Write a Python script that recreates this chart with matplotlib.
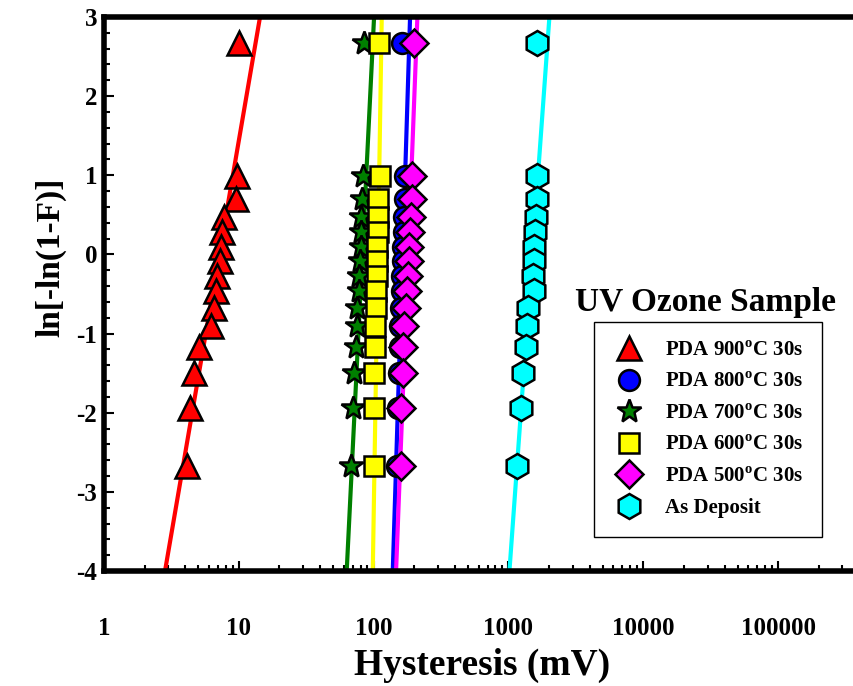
import matplotlib
matplotlib.use("Agg")
from matplotlib import pyplot as plt
from matplotlib.lines import Line2D
from matplotlib.ticker import FixedLocator, LogLocator, MultipleLocator, FuncFormatter

plt.rcParams['font.family'] = ['Liberation Serif', 'DejaVu Serif']
plt.rcParams['font.weight'] = 'bold'
plt.rcParams['mathtext.fontset'] = 'custom'
plt.rcParams['mathtext.rm'] = 'Liberation Serif:bold'
plt.rcParams['axes.unicode_minus'] = False

# Weibull plotting positions, ln[-ln(1-F)]
weibull_y = [2.67, 0.996, 0.701, 0.476, 0.279, 0.094, -0.087, -0.272, -0.464,
             -0.672, -0.903, -1.171, -1.500, -1.944, -2.674]

# hysteresis (mV) for each sample, same order as weibull_y
pda900 = [10.0, 9.70, 9.53, 7.77, 7.50, 7.38, 7.26, 6.89, 6.80, 6.55, 6.22, 5.07, 4.65, 4.35, 4.13]
pda800 = [162.5, 171.0, 169.5, 168.1, 166.7, 165.3, 163.9, 162.5, 161.1, 159.7, 156.9, 155.6, 154.3, 150.3, 149.2]
pda700 = [84.9, 83.0, 81.6, 80.7, 80.2, 80.2, 79.3, 78.3, 77.5, 75.6, 74.6, 74.0, 71.6, 70.7, 67.9]
pda600 = [109.6, 111.5, 108.3, 107.2, 107.2, 106.5, 105.4, 105.4, 104.2, 104.2, 102.4, 102.4, 101.2, 100.7, 100.7]
pda500 = [199.6, 191.7, 191.7, 188.5, 186.3, 184.0, 183.2, 180.9, 177.8, 174.0, 169.0, 166.1, 164.4, 158.8, 158.8]
as_dep = [1622, 1622, 1622, 1595, 1575, 1557, 1557, 1530, 1550, 1406, 1381, 1344, 1290, 1234, 1153]

# fitted Weibull lines: hysteresis at ln[-ln(1-F)] = -4 and 3
fit_y = [-4, 3]
fit900 = [2.835, 14.36]
fit800 = [138.6, 186.2]
fit700 = [63.1, 100.7]
fit600 = [98.5, 114.8]
fit500 = [146.6, 211.0]
fit_dep = [1016, 2011]

labels = ['PDA 900$^{\\rm o}$C 30s', 'PDA 800$^{\\rm o}$C 30s', 'PDA 700$^{\\rm o}$C 30s',
          'PDA 600$^{\\rm o}$C 30s', 'PDA 500$^{\\rm o}$C 30s', 'As Deposit']

series = [
    (pda900, fit900, 'red', '^', 17),
    (pda800, fit800, 'blue', 'o', 15),
    (pda700, fit700, 'green', '*', 18),
    (pda600, fit600, 'yellow', 's', 15),
    (pda500, fit500, 'magenta', 'D', 14),
    (as_dep, fit_dep, 'cyan', 'h', 18),
]

fig = plt.figure(figsize=(8.54, 6.86), dpi=100)
ax = fig.add_axes([104 / 854, (686 - 571) / 686, 809 / 854, 554 / 686])

# fit lines under the markers
for x, fit, color, marker, ms in series:
    ax.plot(fit, fit_y, color=color, lw=3, zorder=2, solid_capstyle='butt')

handles = []
for i, (x, fit, color, marker, ms) in enumerate(series):
    ax.plot(x, weibull_y, ls='none', marker=marker, ms=ms, mfc=color, mec='black',
            mew=1.8, zorder=3 + i)
    handles.append(Line2D([], [], ls='none', marker=marker, ms=ms, mfc=color,
                          mec='black', mew=1.8))

ax.set_xscale('log')
ax.set_xlim(1, 1e6)
ax.set_ylim(-4, 3)

ax.xaxis.set_major_locator(FixedLocator([1, 10, 100, 1000, 10000, 100000]))
ax.xaxis.set_minor_locator(LogLocator(base=10, subs=range(2, 10), numticks=20))
ax.xaxis.set_major_formatter(FuncFormatter(lambda v, p: '%d' % v))
ax.yaxis.set_major_locator(MultipleLocator(1))
ax.yaxis.set_minor_locator(MultipleLocator(0.2))

ax.tick_params(which='both', direction='in', width=1.5, labelsize=18)
ax.tick_params(which='major', length=7)
ax.tick_params(which='minor', length=4)
ax.tick_params(axis='x', pad=33)
ax.tick_params(axis='y', pad=5)
for s in ax.spines.values():
    s.set_linewidth(4)

ax.set_xlabel('Hysteresis (mV)', fontsize=27, fontweight='bold', labelpad=6)
ax.xaxis.label.set_x(0.467)
ax.set_ylabel('ln[-ln(1-F)]', fontsize=24, fontweight='bold', labelpad=7)
ax.yaxis.label.set_y(0.567)

fig.text(706 / 854, 1 - 302 / 686, 'UV Ozone Sample', fontsize=24, fontweight='bold',
         ha='center', va='center')
leg = ax.legend(handles, labels, loc='upper left', bbox_to_anchor=(594 / 854, 1 - 322 / 686),
                bbox_transform=fig.transFigure, fancybox=False, edgecolor='black',
                framealpha=1, fontsize=15, handlelength=1.6, handletextpad=0.9,
                labelspacing=0.55, borderpad=0.9, borderaxespad=0)
leg.get_frame().set_linewidth(1)

fig.savefig('out.png', dpi=100)
